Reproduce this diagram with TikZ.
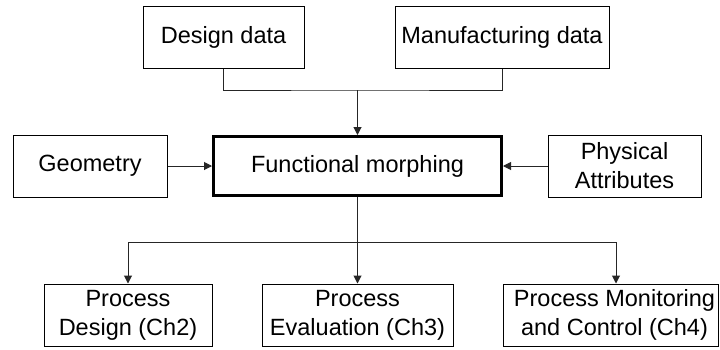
\documentclass[tikz,border=0pt]{standalone}
\usepackage{fontspec}
\setmainfont{Liberation Sans}
\usetikzlibrary{arrows.meta,calc}
\begin{document}
\begin{tikzpicture}[x=1pt,y=-1pt,
  box/.style={draw=black,line width=1pt,fill=white,align=center,inner sep=0pt,
    font=\fontsize{23.5}{29}\selectfont},
  mainbox/.style={box,line width=3pt},
  conn/.style={draw=black!85,line width=1pt},
  arr/.style={conn,-{Triangle[length=8pt,width=8pt]}}]
\useasboundingbox[fill=white] (0,0) rectangle (720,349);
\node[box,minimum width=161pt,minimum height=62pt] (dd) at (223.5,37) {Design data};
\node[box,minimum width=214pt,minimum height=62pt] (md) at (502,37) {Manufacturing data};
\node[box,minimum width=154pt,minimum height=62pt] (geo) at (90,166) {Geometry};
\node[mainbox,minimum width=288pt,minimum height=59pt] (fm) at (357.5,166) {Functional morphing};
\node[box,minimum width=153pt,minimum height=62pt] (pa) at (624.5,166) {Physical\\Attributes};
\node[box,minimum width=168pt,minimum height=62pt] (pd) at (128,315) {Process\\Design (Ch2)};
\node[box,minimum width=191pt,minimum height=62pt] (pe) at (357.5,315) {Process\\Evaluation (Ch3)};
\node[box,minimum width=215pt,minimum height=62pt] (pm) at (610.5,315) {\hspace*{8pt}Process Monitoring\\\hspace*{8pt}and Control (Ch4)};
\coordinate (top) at (357.5,90);
\coordinate (bot) at (357.5,242);
\draw[conn] (dd.south) |- (top) -| (md.south);
\draw[arr] (top) -- (fm.north);
\draw[arr] (geo.east) -- (fm.west);
\draw[arr] (pa.west) -- (fm.east);
\draw[arr] (fm.south) -- (pe.north);
\draw[arr] (bot) -| (pd.north);
\draw[arr] (bot) -| ([xshift=5.5pt]pm.north);
\end{tikzpicture}
\end{document}
